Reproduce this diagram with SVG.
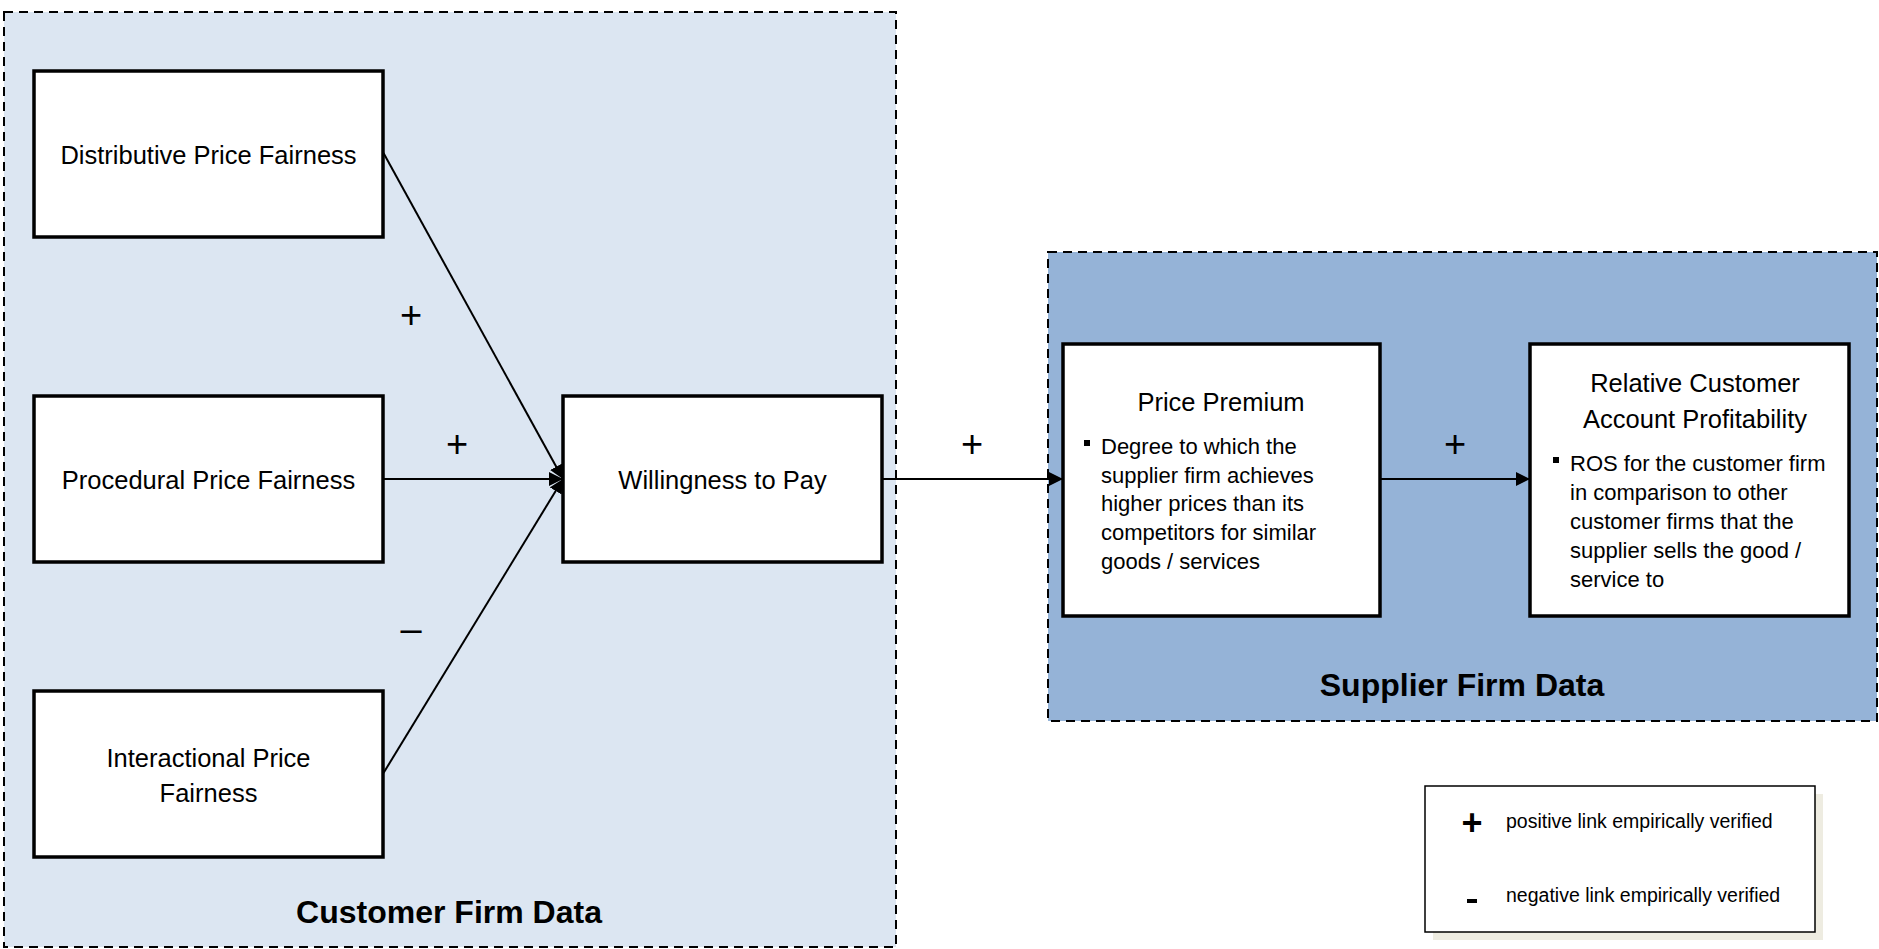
<svg xmlns="http://www.w3.org/2000/svg" width="1879" height="949" viewBox="0 0 1879 949">
  <style>
    .zone { stroke: #000; stroke-width: 2; stroke-dasharray: 9 6; }
    .box { fill: #fff; stroke: #000; stroke-width: 3.5; }
    .lbl { font-family: "Liberation Sans", Arial, sans-serif; font-size: 25.5px; fill: #000; text-anchor: middle; }
    .bul { font-family: "Liberation Sans", Arial, sans-serif; font-size: 22px; fill: #000; }
    .zt { font-family: "Liberation Sans", Arial, sans-serif; font-size: 32px; font-weight: bold; fill: #000; text-anchor: middle; }
    .sign { font-family: "Liberation Sans", Arial, sans-serif; font-size: 38px; fill: #000; text-anchor: middle; }
    .leg { font-family: "Liberation Sans", Arial, sans-serif; font-size: 19.5px; fill: #000; }
    .legs { font-family: "Liberation Sans", Arial, sans-serif; font-size: 36px; font-weight: bold; fill: #000; text-anchor: middle; }
    .edge { stroke: #000; stroke-width: 2; fill: none; marker-end: url(#arrow); }
  </style>
  <defs>
    <marker id="arrow" viewBox="0 0 10 10" refX="10" refY="5" markerWidth="7" markerHeight="7" markerUnits="strokeWidth" orient="auto">
      <path d="M0,0 L10,5 L0,10 Z" fill="#000"/>
    </marker>
  </defs>

  <rect width="1879" height="949" fill="#fff"/>

  <!-- data source zones -->
  <g id="zone-customer">
    <rect class="zone" x="4" y="12" width="892" height="935" fill="#dce6f2"/>
    <text class="zt" x="449" y="923">Customer Firm Data</text>
  </g>
  <g id="zone-supplier">
    <rect class="zone" x="1048" y="252" width="829" height="469" fill="#95b3d7"/>
    <text class="zt" x="1462" y="696">Supplier Firm Data</text>
  </g>

  <!-- connectors -->
  <g id="connectors">
    <line class="edge" x1="383.5" y1="153" x2="563" y2="479"/>
    <line class="edge" x1="383.5" y1="479" x2="563" y2="479"/>
    <line class="edge" x1="383.5" y1="773" x2="563" y2="479"/>
    <line class="edge" x1="882" y1="479" x2="1063" y2="479"/>
    <line class="edge" x1="1380" y1="479" x2="1530" y2="479"/>
    <text class="sign" x="411" y="328">+</text>
    <text class="sign" x="457" y="457">+</text>
    <text class="sign" x="411" y="642">–</text>
    <text class="sign" x="972" y="457">+</text>
    <text class="sign" x="1455" y="457">+</text>
  </g>

  <!-- nodes -->
  <g id="distributive">
    <rect class="box" x="34" y="71" width="349" height="166"/>
    <text class="lbl" x="208.5" y="164">Distributive Price Fairness</text>
  </g>
  <g id="procedural">
    <rect class="box" x="34" y="396" width="349" height="166"/>
    <text class="lbl" x="208.5" y="489">Procedural Price Fairness</text>
  </g>
  <g id="interactional">
    <rect class="box" x="34" y="691" width="349" height="166"/>
    <text class="lbl" x="208.5" y="767">Interactional Price</text>
    <text class="lbl" x="208.5" y="802">Fairness</text>
  </g>
  <g id="willingness">
    <rect class="box" x="563" y="396" width="319" height="166"/>
    <text class="lbl" x="722.5" y="489">Willingness to Pay</text>
  </g>
  <g id="price-premium">
    <rect class="box" x="1063" y="344" width="317" height="272"/>
    <text class="lbl" x="1221" y="411">Price Premium</text>
    <rect x="1084" y="440" width="6" height="6" fill="#000"/>
    <text class="bul" x="1101" y="454">Degree to which the</text>
    <text class="bul" x="1101" y="483">supplier firm achieves</text>
    <text class="bul" x="1101" y="511">higher prices than its</text>
    <text class="bul" x="1101" y="540">competitors for similar</text>
    <text class="bul" x="1101" y="569">goods / services</text>
  </g>
  <g id="profitability">
    <rect class="box" x="1530" y="344" width="319" height="272"/>
    <text class="lbl" x="1695" y="392">Relative Customer</text>
    <text class="lbl" x="1695" y="428">Account Profitability</text>
    <rect x="1553" y="457" width="6" height="6" fill="#000"/>
    <text class="bul" x="1570" y="471">ROS for the customer firm</text>
    <text class="bul" x="1570" y="500">in comparison to other</text>
    <text class="bul" x="1570" y="529">customer firms that the</text>
    <text class="bul" x="1570" y="558">supplier sells the good /</text>
    <text class="bul" x="1570" y="587">service to</text>
  </g>

  <!-- legend -->
  <g id="legend">
    <rect x="1433" y="794" width="390" height="146" fill="#eeece1"/>
    <rect x="1425" y="786" width="390" height="146" fill="#fff" stroke="#000" stroke-width="1.5"/>
    <text class="legs" x="1472" y="835">+</text>
    <text class="leg" x="1506" y="828">positive link empirically verified</text>
    <rect x="1467" y="899" width="10" height="4" fill="#000"/>
    <text class="leg" x="1506" y="902">negative link empirically verified</text>
  </g>
</svg>
